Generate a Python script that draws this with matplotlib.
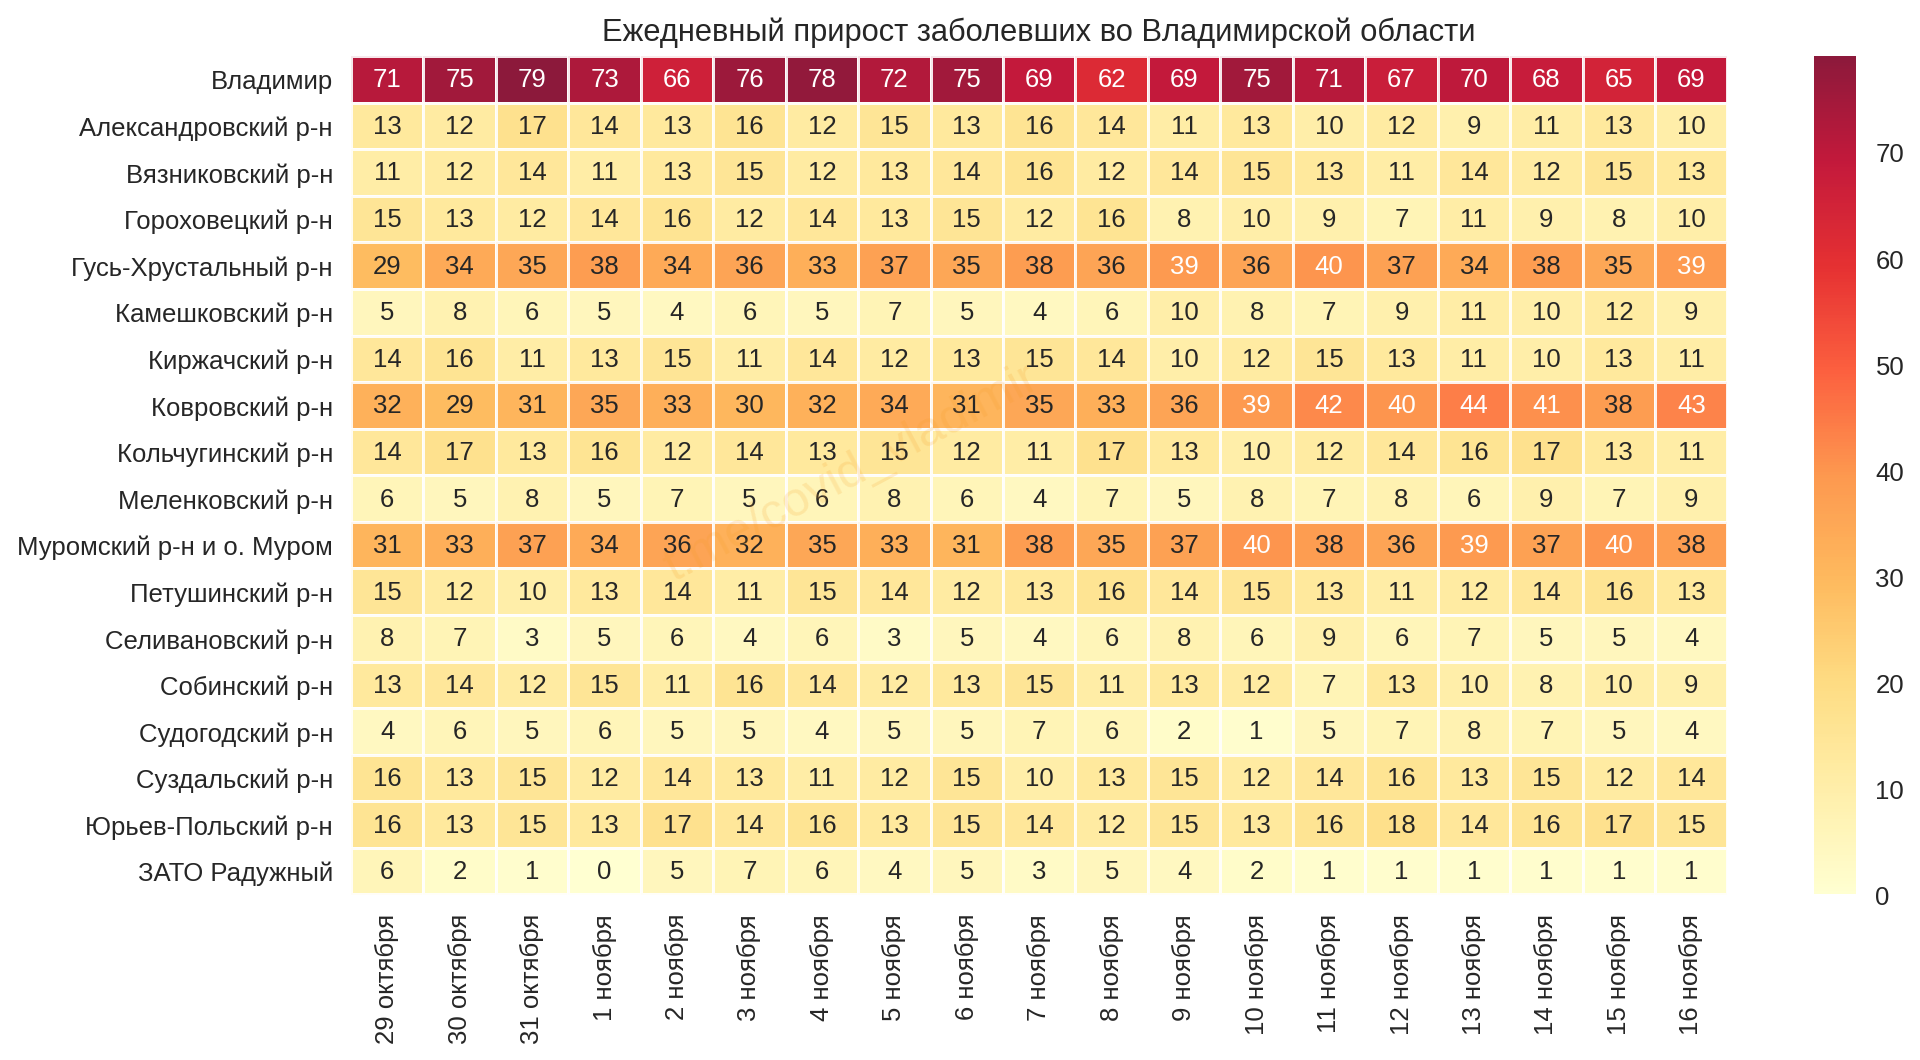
import matplotlib
matplotlib.use("Agg")
import matplotlib.pyplot as plt
from matplotlib.transforms import ScaledTranslation
import seaborn as sns
import pandas as pd

districts = ['Владимир', 'Александровский р-н', 'Вязниковский р-н', 'Гороховецкий р-н',
             'Гусь-Хрустальный р-н', 'Камешковский р-н', 'Киржачский р-н', 'Ковровский р-н',
             'Кольчугинский р-н', 'Меленковский р-н', 'Муромский р-н и о. Муром',
             'Петушинский р-н', 'Селивановский р-н', 'Собинский р-н', 'Судогодский р-н',
             'Суздальский р-н', 'Юрьев-Польский р-н', 'ЗАТО Радужный']
dates = ['29 октября', '30 октября', '31 октября', '1 ноября', '2 ноября', '3 ноября',
         '4 ноября', '5 ноября', '6 ноября', '7 ноября', '8 ноября', '9 ноября', '10 ноября',
         '11 ноября', '12 ноября', '13 ноября', '14 ноября', '15 ноября', '16 ноября']

vladimir = [71, 75, 79, 73, 66, 76, 78, 72, 75, 69, 62, 69, 75, 71, 67, 70, 68, 65, 69]
aleksandrov = [13, 12, 17, 14, 13, 16, 12, 15, 13, 16, 14, 11, 13, 10, 12, 9, 11, 13, 10]
vyazniki = [11, 12, 14, 11, 13, 15, 12, 13, 14, 16, 12, 14, 15, 13, 11, 14, 12, 15, 13]
gorokhovets = [15, 13, 12, 14, 16, 12, 14, 13, 15, 12, 16, 8, 10, 9, 7, 11, 9, 8, 10]
gus = [29, 34, 35, 38, 34, 36, 33, 37, 35, 38, 36, 39, 36, 40, 37, 34, 38, 35, 39]
kameshkovo = [5, 8, 6, 5, 4, 6, 5, 7, 5, 4, 6, 10, 8, 7, 9, 11, 10, 12, 9]
kirzhach = [14, 16, 11, 13, 15, 11, 14, 12, 13, 15, 14, 10, 12, 15, 13, 11, 10, 13, 11]
kovrov = [32, 29, 31, 35, 33, 30, 32, 34, 31, 35, 33, 36, 39, 42, 40, 44, 41, 38, 43]
kolchugino = [14, 17, 13, 16, 12, 14, 13, 15, 12, 11, 17, 13, 10, 12, 14, 16, 17, 13, 11]
melenki = [6, 5, 8, 5, 7, 5, 6, 8, 6, 4, 7, 5, 8, 7, 8, 6, 9, 7, 9]
murom = [31, 33, 37, 34, 36, 32, 35, 33, 31, 38, 35, 37, 40, 38, 36, 39, 37, 40, 38]
petushki = [15, 12, 10, 13, 14, 11, 15, 14, 12, 13, 16, 14, 15, 13, 11, 12, 14, 16, 13]
selivanovo = [8, 7, 3, 5, 6, 4, 6, 3, 5, 4, 6, 8, 6, 9, 6, 7, 5, 5, 4]
sobinka = [13, 14, 12, 15, 11, 16, 14, 12, 13, 15, 11, 13, 12, 7, 13, 10, 8, 10, 9]
sudogda = [4, 6, 5, 6, 5, 5, 4, 5, 5, 7, 6, 2, 1, 5, 7, 8, 7, 5, 4]
suzdal = [16, 13, 15, 12, 14, 13, 11, 12, 15, 10, 13, 15, 12, 14, 16, 13, 15, 12, 14]
yuryev = [16, 13, 15, 13, 17, 14, 16, 13, 15, 14, 12, 15, 13, 16, 18, 14, 16, 17, 15]
raduzhny = [6, 2, 1, 0, 5, 7, 6, 4, 5, 3, 5, 4, 2, 1, 1, 1, 1, 1, 1]

df = pd.DataFrame([vladimir, aleksandrov, vyazniki, gorokhovets, gus, kameshkovo, kirzhach,
                   kovrov, kolchugino, melenki, murom, petushki, selivanovo, sobinka, sudogda,
                   suzdal, yuryev, raduzhny], index=districts, columns=dates)

sns.set_style("white")
plt.rcParams['font.family'] = ['Liberation Sans', 'DejaVu Sans']

fig = plt.figure(figsize=(19.2, 10.6), dpi=100, facecolor='w')
ax = fig.add_axes([351 / 1920, 1 - 894.5 / 1060, 1376.5 / 1920, 838.5 / 1060])
cax = fig.add_axes([1814 / 1920, 1 - 894 / 1060, 42 / 1920, 838 / 1060])

sns.heatmap(df, annot=True, fmt='d', cmap='YlOrRd', linewidths=2, linecolor='white', alpha=0.9,
            annot_kws={'fontsize': 18.5}, ax=ax, cbar_ax=cax)

ax.set_title('Ежедневный прирост заболевших во Владимирской области', fontsize=22.2,
             color='.15', pad=10.5)
ax.tick_params(axis='both', length=0, labelsize=18.5, colors='.15')
ax.tick_params(axis='x', pad=14)
ax.tick_params(axis='y', pad=13)
plt.setp(ax.get_xticklabels(), rotation=90)
plt.setp(ax.get_yticklabels(), rotation=0)
cax.tick_params(length=0, labelsize=18.5, colors='.15', pad=14)

# labels sit a little below the cell centres in the original
shift = ScaledTranslation(0, -3 / 100, fig.dpi_scale_trans)
for lab in ax.get_yticklabels():
    lab.set_transform(lab.get_transform() + shift)
cbar_shift = ScaledTranslation(0, -1.5 / 100, fig.dpi_scale_trans)
for lab in cax.get_yticklabels():
    lab.set_transform(lab.get_transform() + cbar_shift)
shift_annot = ScaledTranslation(0, -1 / 100, fig.dpi_scale_trans)
for txt in ax.texts:
    txt.set_transform(txt.get_transform() + shift_annot)

# faint watermark across the middle of the grid
fig.text(852 / 1920, 1 - 473 / 1060, 't.me/covid_vladimir', fontsize=35, rotation=28,
         color='#f59a23', alpha=0.17, ha='center', va='center')

fig.savefig('out.png', dpi=100)
